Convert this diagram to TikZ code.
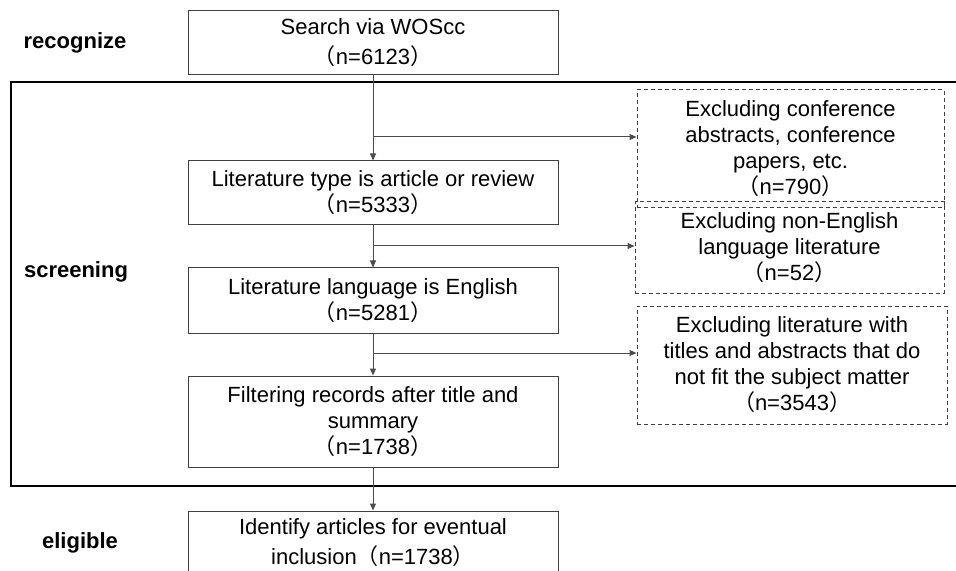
\documentclass[tikz,border=0pt]{standalone}
\usepackage{fontspec}
\setmainfont{Liberation Sans}
\newfontfamily\cjk{Noto Sans CJK SC}
\usetikzlibrary{arrows.meta, positioning}
\newcommand{\cnt}[1]{{\cjk （}n=#1{\cjk ）}}

\tikzset{
  stagebox/.style={draw=black!75, line width=0.5pt, minimum width=185pt, align=center, inner sep=0pt, font=\fontsize{11}{13}\selectfont},
  dropbox/.style={draw=black!75, dash pattern=on 2pt off 1.5pt, line width=0.5pt, align=center, inner sep=0pt, font=\fontsize{11}{13}\selectfont},
  phase/.style={font=\bfseries\fontsize{11}{13}\selectfont},
  flow/.style={draw=black!70, line width=0.5pt, -{Triangle[length=3.5pt,width=3pt]}},
}

\begin{document}
\begin{tikzpicture}[x=0.5pt, y=-0.5pt]
            \useasboundingbox (0,0) rectangle (956,571);
            % screening frame
            \draw[line width=1pt] (956,82) -- (11,82) -- (11,486) -- (956,486);
            % phases
            \node[phase] (recog) at (75,43) {recognize};
            \node[phase] (screen) at (76,272) {screening};
            \node[phase] (elig) at (80,543) {eligible};
            % main flow
            \node[stagebox, minimum height=32pt] (search) at (373,43) {Search via WOScc\\[2pt]\cnt{6123}};
            \node[stagebox, minimum height=32pt] (type) at (373,193) {Literature type is article or review\\\cnt{5333}};
            \node[stagebox, minimum height=32.5pt] (lang) at (373,300.5) {Literature language is English\\\cnt{5281}};
            \node[stagebox, minimum height=45.5pt] (filter) at (373,421.5) {Filtering records after title and\\summary\\\cnt{1738}};
            \node[stagebox, minimum height=32pt] (incl) at (373,543) {Identify articles for eventual\\[2pt]inclusion\cnt{1738}};
            % excluded records
            \node[dropbox, minimum width=153.5pt, minimum height=59pt] (exconf) at (790.5,149) {Excluding conference\\abstracts, conference\\papers, etc.\\\cnt{790}};
            \node[dropbox, minimum width=154.5pt, minimum height=45.5pt] (exlang) at (789.5,247.5) {Excluding non-English\\language literature\\\cnt{52}};
            \node[dropbox, minimum width=155pt, minimum height=59pt] (extitle) at (792,365) {Excluding literature with\\titles and abstracts that do\\not fit the subject matter\\\cnt{3543}};
            \coordinate (b1) at (373,137);
            \coordinate (b2) at (373,246);
            \coordinate (b3) at (373,353);
            \draw[flow] (search) -- (type);
            \draw[flow] (type) -- (lang);
            \draw[flow] (lang) -- (filter);
            \draw[flow] (filter) -- (incl);
            \draw[flow] (b1) -- (b1 -| exconf.west);
            \draw[flow] (b2) -- (b2 -| exlang.west);
            \draw[flow] (b3) -- (b3 -| extitle.west);
        \end{tikzpicture}
\end{document}
